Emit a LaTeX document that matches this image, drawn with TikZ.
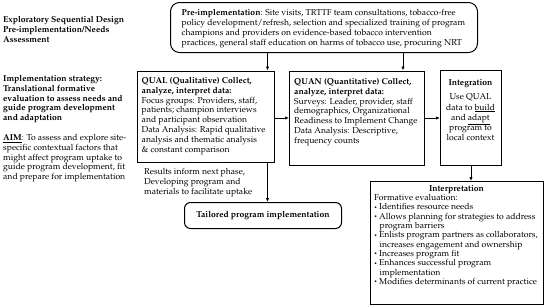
\documentclass[tikz,border=0pt]{standalone}
\usepackage[T1]{fontenc}
\renewcommand{\rmdefault}{ppl}
\usepackage{graphicx}
\usetikzlibrary{arrows.meta}
\newcommand\mybul{\makebox[5pt][l]{\raisebox{0.15ex}{\scalebox{0.6}{\textbullet}}}}
\newcommand\myind{\hspace*{5.5pt}}
\begin{document}
\begin{tikzpicture}[x=1pt,y=-1pt,
  box/.style={draw, line width=1pt, inner sep=0pt, anchor=north west},
  txt/.style={inner sep=0pt, align=left, anchor=north west},
  arr/.style={-{Latex[length=4pt,width=3.4pt]}, line width=0.9pt}]
\useasboundingbox (0,0) rectangle (550,308);
% boxes
\node[box, rounded corners=9pt, minimum width=307pt, minimum height=50pt] (pre) at (170,2) {};
\node[box, minimum width=136.5pt, minimum height=91.5pt] (qual) at (137,70.5) {};
\node[box, minimum width=135pt, minimum height=94.5pt] (quan) at (289,70.5) {};
\node[box, minimum width=61pt, minimum height=95pt] (integ) at (440,70) {};
\node[box, rounded corners=6pt, minimum width=157pt, minimum height=26pt, font=\fontsize{8.6}{9.8}\selectfont\bfseries] (tail) at (184,202) {Tailored program implementation};
\node[box, minimum width=173pt, minimum height=123pt] (interp) at (370,181) {};
% left column
\node[txt, font=\fontsize{8.6}{9.8}\selectfont\bfseries] (lt1) at (3,16.5) {Exploratory Sequential Design\\Pre-implementation/Needs\\Assessment};
\node[txt, font=\fontsize{8.6}{9.8}\selectfont\bfseries] (lt2) at (3,75) {Implementation strategy:\\Translational formative\\evaluation to assess needs and\\guide program development\\and adaptation};
\node[txt, font=\fontsize{8.6}{9.8}\selectfont] (lt3) at (3,134) {\textbf{\underline{AIM}}: To assess and explore site-\\specific contextual factors that\\might affect program uptake to\\guide program development, fit\\and prepare for implementation};
% box texts
\node[txt, font=\fontsize{8.6}{9.8}\selectfont] (pret) at (181.5,9.3) {\textbf{Pre-implementation}: Site visits, TRTTF team consultations, tobacco-free\\policy development/refresh, selection and specialized training of program\\champions and providers on evidence-based tobacco intervention\\practices, general staff education on harms of tobacco use, procuring NRT};
\node[txt, font=\fontsize{8.6}{9.85}\selectfont] (qualt) at (141.5,77) {\textbf{QUAL (Qualitative) Collect,}\\\textbf{analyze, interpret data:}\\Focus groups: Providers, staff,\\patients; champion interviews\\and participant observation\\Data Analysis: Rapid qualitative\\analysis and thematic analysis\\\& constant comparison};
\node[txt, font=\fontsize{8.6}{10}\selectfont] (rest) at (144,168.5) {Results inform next phase,\\Developing program and\\materials to facilitate uptake};
\node[txt, font=\fontsize{8.6}{9.75}\selectfont] (quant) at (294,78.3) {\textbf{QUAN (Quantitative) Collect,}\\\textbf{analyze, interpret data:}\\Surveys: Leader, provider, staff\\demographics, Organizational\\Readiness to Implement Change\\Data Analysis: Descriptive,\\frequency counts};
\node[inner sep=0pt, align=center, anchor=north, font=\fontsize{8.6}{10.2}\selectfont] (integt) at (470.5,79) {\textbf{Integration}\\[4.5pt]Use QUAL\\data to \underline{build}\\and \underline{adapt}\\program to\\local context};
\node[inner sep=0pt, anchor=north, font=\fontsize{8.6}{9.3}\selectfont\bfseries] (interpt) at (456.5,185.3) {Interpretation};
\node[txt, font=\fontsize{8.6}{9.33}\selectfont] (interpl) at (374,194) {Formative evaluation:\\\mybul Identifies resource needs\\\mybul Allows planning for strategies to address\\\myind program barriers\\\mybul Enlists program partners as collaborators,\\\myind increases engagement and ownership\\\mybul Increases program fit\\\mybul Enhances successful program\\\myind implementation\\\mybul Modifies determinants of current practice};
% connectors
\coordinate (xa) at (267.5,0);
\coordinate (xb) at (403,0);
\coordinate (ya) at (0,118);
\draw[arr] (xa |- pre.south) -- (xa |- qual.north);
\draw[arr] (xb |- pre.south) -- (xb |- quan.north);
\draw[arr] (qual.east |- ya) -- (quan.west |- ya);
\draw[arr] (quan.east |- ya) -- (integ.west |- ya);
\draw[arr] (integ.south) -- (integ.south |- interp.north);
\draw[arr] (xa |- qual.south) -- (xa |- tail.north);
\end{tikzpicture}
\end{document}
